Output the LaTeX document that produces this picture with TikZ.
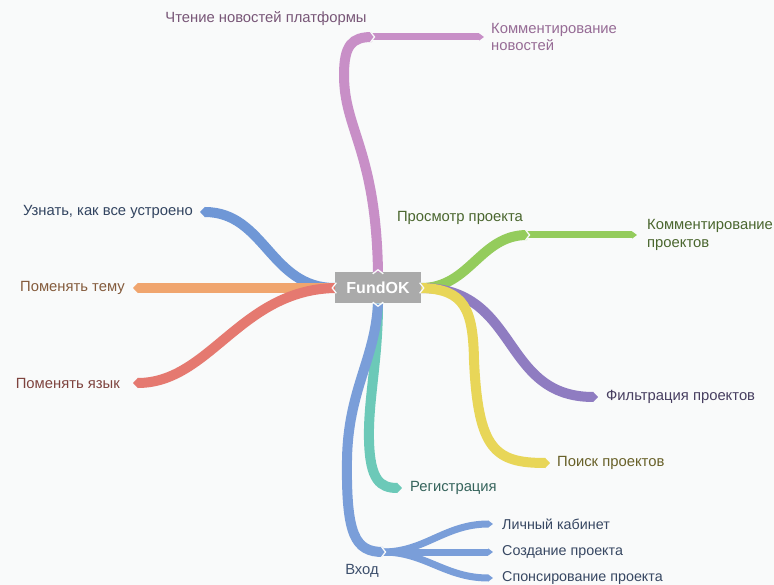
\documentclass[tikz,border=0pt]{standalone}
\usepackage{fontspec}
\setmainfont{Liberation Sans}
\usetikzlibrary{arrows.meta,positioning}

% colours of the branches
\definecolor{bgcol}{RGB}{249,250,250}
\definecolor{hubgray}{RGB}{170,170,170}
\definecolor{newscol}{RGB}{200,143,199}
\definecolor{aboutcol}{RGB}{111,151,214}
\definecolor{themecol}{RGB}{240,165,110}
\definecolor{langcol}{RGB}{229,121,112}
\definecolor{viewcol}{RGB}{148,204,92}
\definecolor{filtcol}{RGB}{143,124,193}
\definecolor{searchcol}{RGB}{232,214,88}
\definecolor{regcol}{RGB}{108,201,184}
\definecolor{logincol}{RGB}{122,158,217}

\tikzset{
  branch/.style={line width=10pt, line cap=butt},
  twig/.style={line width=7pt, line cap=butt},
  leaf/.style={-{Triangle[length=5pt,width=0pt 1]}},
  lbl/.style={font=\fontsize{14.8}{17.5}\selectfont, inner sep=0pt, align=left},
  sublbl/.style={lbl, font=\fontsize{14.3}{17}\selectfont},
  notch/.pic={\draw[bgcol, line width=1.3pt] (-1.5,-5.3) -- (2.5,0) -- (-1.5,5.3);}
}

\begin{document}
\begin{tikzpicture}[x=1pt, y=-1pt]

    \fill[bgcol] (0,0) rectangle (774,585);
    \useasboundingbox (0,0) rectangle (774,585);

    % centre
    \node[fill=hubgray, text=white, font=\bfseries\fontsize{16}{18}\selectfont,
          minimum width=86pt, minimum height=31pt, inner sep=0pt] (fund) at (378,288) {FundOK};

    % joints and leaf ends
    \coordinate (newsj) at (372,37);
    \coordinate (newsend) at (484,37);
    \coordinate (aboutend) at (200,212);
    \coordinate (themeend) at (133,288);
    \coordinate (langend) at (133,383);
    \coordinate (viewj) at (527,235);
    \coordinate (viewend) at (637,235);
    \coordinate (filtend) at (598,397);
    \coordinate (searchend) at (550,463);
    \coordinate (regend) at (402,488);
    \coordinate (loginj) at (383,552);
    \coordinate (cabend) at (493,524);
    \coordinate (createend) at (493,552);
    \coordinate (sponsend) at (493,578);

    % news
    \draw[branch, newscol] (fund.north) .. controls (376,150) and (344,130) .. (344,75)
        .. controls (344,45) and (352,37) .. (newsj);
    \draw[twig, leaf, newscol] (newsj) -- (newsend);

    % left side
    \draw[branch, leaf, aboutcol] (fund.west) .. controls (270,288) and (265,212) .. (aboutend);
    \draw[branch, leaf, themecol] (fund.west) -- (themeend);
    \draw[branch, leaf, langcol] (fund.west) .. controls (240,290) and (210,383) .. (langend);

    % right side
    \draw[branch, viewcol] (fund.east) .. controls (470,288) and (480,235) .. (viewj);
    \draw[twig, leaf, viewcol] (viewj) -- (viewend);
    \draw[branch, leaf, filtcol] (fund.east) .. controls (520,288) and (500,397) .. (filtend);
    \draw[branch, leaf, searchcol] (fund.east) .. controls (465,289) and (473,310) .. (474,360)
        .. controls (478,450) and (495,463) .. (searchend);

    % bottom
    \draw[branch, leaf, regcol] (fund.south) .. controls (378,360) and (368,400) .. (369,440)
        .. controls (370,480) and (380,488) .. (regend);
    \draw[branch, logincol] (fund.south) .. controls (375,360) and (348,390) .. (347,460)
        .. controls (346,535) and (355,552) .. (loginj);
    \draw[twig, leaf, logincol] (loginj) .. controls (425,552) and (445,524) .. (cabend);
    \draw[twig, leaf, logincol] (loginj) -- (createend);
    \draw[twig, leaf, logincol] (loginj) .. controls (425,552) and (445,578) .. (sponsend);

    % notches at the joints
    \pic[rotate=90] at (fund.north) {notch};
    \pic[rotate=180] at (fund.west) {notch};
    \pic at (fund.east) {notch};
    \pic[rotate=-90] at (fund.south) {notch};
    \pic at (newsj) {notch};
    \pic at (viewj) {notch};
    \pic at (loginj) {notch};

    % labels
    \node[lbl, text=newscol!60!black] (newslbl) at (266,19) {Чтение новостей платформы};
    \node[lbl, text=newscol!75!black, right=7pt of newsend] (newscom) {Комментирование\\новостей};
    \node[lbl, text=aboutcol!45!black, left=7pt of aboutend] (aboutlbl) {Узнать, как все устроено};
    \node[lbl, text=themecol!55!black, left=8pt of themeend] (themelbl) {Поменять тему};
    \node[lbl, text=langcol!55!black, left=13pt of langend] (langlbl) {Поменять язык};
    \node[lbl, text=viewcol!50!black] (viewlbl) at (460,218) {Просмотр проекта};
    \node[lbl, text=viewcol!50!black, right=10pt of viewend] (viewcom) {Комментирование\\проектов};
    \node[lbl, text=filtcol!50!black, right=8pt of filtend] (filtlbl) {Фильтрация проектов};
    \node[lbl, text=searchcol!45!black, right=7pt of searchend] (searchlbl) {Поиск проектов};
    \node[lbl, text=regcol!50!black, right=8pt of regend] (reglbl) {Регистрация};
    \node[lbl, text=logincol!50!black] (loginlbl) at (362,571) {Вход};
    \node[sublbl, text=logincol!45!black, right=9pt of cabend] (cablbl) {Личный кабинет};
    \node[sublbl, text=logincol!45!black, right=9pt of createend] (createlbl) {Создание проекта};
    \node[sublbl, text=logincol!45!black, right=9pt of sponsend] (sponslbl) {Спонсирование проекта};

\end{tikzpicture}
\end{document}
